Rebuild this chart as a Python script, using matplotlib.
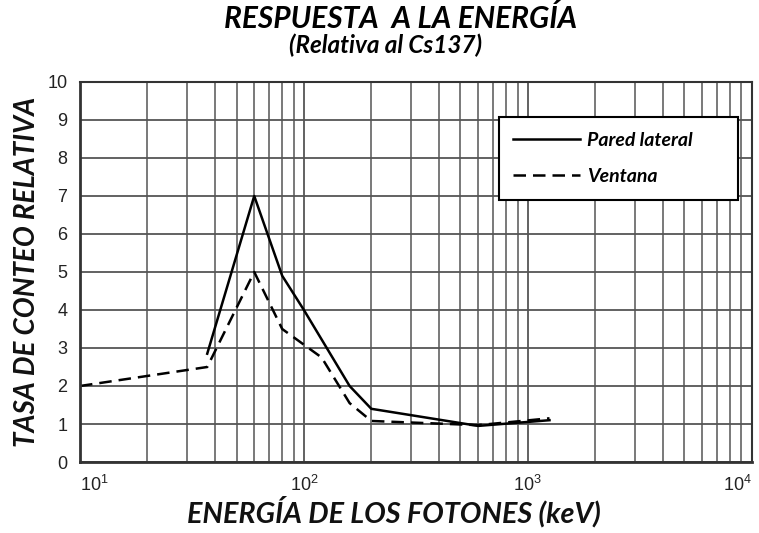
import matplotlib.pyplot as plt
from matplotlib.ticker import LogLocator, NullFormatter

# datos
energia_pared = [37, 60, 80, 100, 160, 200, 600, 1250]
tasa_pared = [2.85, 7.0, 4.9, 4.0, 2.0, 1.4, 0.95, 1.1]

energia_ventana = [10, 37, 60, 80, 120, 160, 200, 600, 1250]
tasa_ventana = [2.0, 2.5, 5.0, 3.5, 2.75, 1.55, 1.08, 0.97, 1.15]

x_ticks = [10, 100, 1000, 10000]
x_labels = ['$10^1$', '$10^2$', '$10^3$', '$10^4$']
y_ticks = list(range(0, 11))
fuente = ['Lato', 'DejaVu Sans']

plt.rcParams['font.family'] = ['Liberation Sans', 'DejaVu Sans']
plt.rcParams['mathtext.fontset'] = 'custom'
plt.rcParams['mathtext.rm'] = 'Liberation Sans'

fig = plt.figure(figsize=(7.59, 5.33), dpi=100)
ax = fig.add_axes([0.1054, 0.1332, 0.885, 0.713])

ax.plot(energia_pared, tasa_pared, color='black', lw=1.8, label='Pared lateral')
ax.plot(energia_ventana, tasa_ventana, color='black', lw=1.8, dashes=(5, 2.8), label='Ventana')

ax.set_xscale('log')
ax.set_xlim(10, 1e4)
ax.set_ylim(0, 10)
ax.set_yticks(y_ticks)
ax.set_xticks(x_ticks, x_labels)
ax.xaxis.set_minor_locator(LogLocator(base=10, subs=range(2, 10)))
ax.xaxis.set_minor_formatter(NullFormatter())
ax.xaxis.get_major_ticks()[-1].label1.set_horizontalalignment('right')
ax.xaxis.get_major_ticks()[0].label1.set_horizontalalignment('left')

ax.grid(True, which='major', color='#555555', lw=1.3)
ax.grid(True, which='minor', axis='x', color='#555555', lw=1.1)
ax.set_axisbelow(True)
ax.tick_params(which='both', length=0, labelsize=13, colors='#222222', pad=9)
for s in ax.spines.values():
    s.set_color('#333333')
    s.set_linewidth(1.5)
ax.spines['bottom'].set_linewidth(2)
ax.spines['left'].set_linewidth(2)

leg = ax.legend(loc='upper left', bbox_to_anchor=(0.6235, 0.7079, 0.3557, 0.2),
                mode='expand', borderaxespad=0, handlelength=3.45,
                fancybox=False, framealpha=1, edgecolor='black', borderpad=0.75,
                labelspacing=1.0, handletextpad=0.35,
                prop={'family': fuente, 'weight': 'bold', 'style': 'italic', 'size': 14})
leg.get_frame().set_linewidth(1.5)

ax.set_xlabel('ENERGÍA DE LOS FOTONES (keV)', family=fuente, fontsize=20.7,
              style='italic', weight='bold', color='#111111')
ax.xaxis.set_label_coords(0.467, -0.09)
ax.set_ylabel('TASA DE CONTEO RELATIVA', family=fuente, fontsize=20,
              style='italic', weight='bold', color='#111111', labelpad=5)

fig.text(0.528, 0.965, 'RESPUESTA  A LA ENERGÍA', ha='center', va='center',
         family=fuente, fontsize=21.5, style='italic', weight='bold')
fig.text(0.508, 0.914, '(Relativa al Cs137)', ha='center', va='center',
         family=fuente, fontsize=17.5, style='italic', weight='bold')

fig.savefig('out.png', dpi=100)
